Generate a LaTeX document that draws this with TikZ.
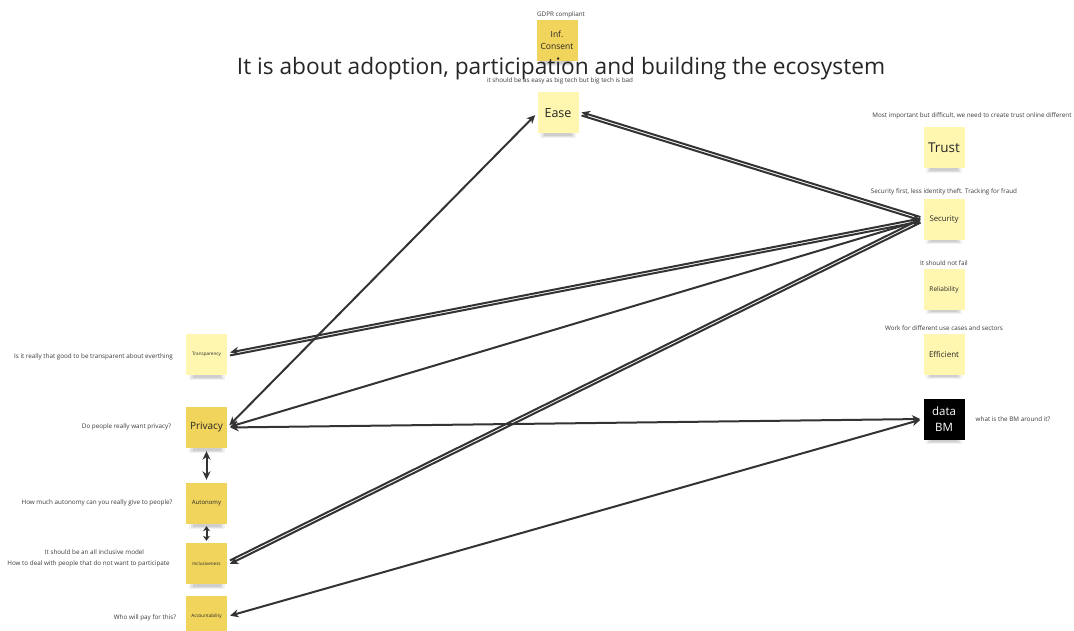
\documentclass[tikz,border=0pt]{standalone}
\usepackage{fontspec}
\setmainfont{Open Sans}
\usetikzlibrary{arrows.meta}
\definecolor{lightnote}{HTML}{FFF7B0}
\definecolor{darknote}{HTML}{F1D45C}
\definecolor{inkgray}{HTML}{333333}
\definecolor{txtgray}{HTML}{3A3A3A}
\tikzset{
  note/.style={minimum width=41pt,minimum height=41pt,inner sep=0pt,align=center,text=black!85},
  light/.style={note,fill=lightnote},
  dark/.style={note,fill=darknote},
  blacknote/.style={note,fill=black,text=white},
  cmt/.style={font=\fontsize{6.3}{7.4}\selectfont,text=txtgray,inner sep=0pt,align=center},
  conn/.style={draw=inkgray,line width=2pt,-{Stealth[length=8.5pt,width=8pt]},shorten >=3pt,shorten <=3pt},
  biconn/.style={conn,{Stealth[length=8.5pt,width=8pt]}-{Stealth[length=8.5pt,width=8pt]}},
  shortbi/.style={draw=inkgray,line width=2pt,{Stealth[length=5pt,width=7pt]}-{Stealth[length=5pt,width=7pt]},shorten >=2pt,shorten <=2pt},
}
\newcommand{\shadowat}[2]{%
  \fill[black,opacity=0.05] (#1-18,#2+19.5) rectangle (#1+18,#2+25);
  \fill[black,opacity=0.07] (#1-16,#2+20) rectangle (#1+16,#2+24);
  \fill[black,opacity=0.08] (#1-14,#2+20) rectangle (#1+14,#2+23);
}
\begin{document}
\begin{tikzpicture}[x=1pt,y=-1pt]
\useasboundingbox[fill=white] (0,0) rectangle (1074,631);

% shadows
\shadowat{557}{41}
\shadowat{558}{113}
\shadowat{944}{148}
\shadowat{944}{219}
\shadowat{944}{289}
\shadowat{944}{354}
\shadowat{944}{419}
\shadowat{207}{355}
\shadowat{207}{428}
\shadowat{207}{504}
\shadowat{207}{564}

% notes
\node[dark,font=\fontsize{8.5}{11.5}\selectfont] (consent) at (557,40.5) {Inf.\\Consent};
\node[light,font=\fontsize{12.5}{14}\selectfont] (ease) at (558,113) {Ease};
\node[light,font=\fontsize{13.5}{15}\selectfont] (trust) at (944,148) {Trust};
\node[light,font=\fontsize{7.8}{9}\selectfont] (security) at (944,219.5) {Security};
\node[light,font=\fontsize{6.5}{8}\selectfont] (reliability) at (944,289.5) {Reliability};
\node[light,font=\fontsize{8}{9}\selectfont] (efficient) at (944,354.5) {Efficient};
\node[blacknote,font=\fontsize{11.5}{16.5}\selectfont] (databm) at (944,419) {data\\BM};
\node[light,font=\fontsize{4.6}{5}\selectfont] (transparency) at (206.5,354.5) {Transparency};
\node[dark,font=\fontsize{10}{11}\selectfont] (privacy) at (206.5,427.5) {Privacy};
\node[dark,font=\fontsize{6}{7}\selectfont] (autonomy) at (206.5,503.5) {Autonomy};
\node[dark,font=\fontsize{4.6}{5}\selectfont] (inclusiveness) at (206.5,563.5) {Inclusiveness};
\node[dark,font=\fontsize{4.6}{5}\selectfont] (accountability) at (206.5,616.5) {Accountability};

% title
\node[font=\fontsize{22.7}{26}\selectfont,text=black!85,inner sep=0pt] (title) at (561,69) {It is about adoption, participation and building the ecosystem};

% comments
\node[cmt] (c1) at (561,15) {GDPR compliant};
\node[cmt] (c2) at (560,80.5) {it should be as easy as big tech but big tech is bad};
\node[cmt] (c3) at (972,116) {Most important but difficult, we need to create trust online different};
\node[cmt] (c4) at (944,192) {Security first, less identity theft. Tracking for fraud};
\node[cmt] (c5) at (944,263) {It should not fail};
\node[cmt] (c6) at (944,328) {Work for different use cases and sectors};
\node[cmt] (c7) at (1013,419) {what is the BM around it?};
\node[cmt] (c8) at (93.5,357) {Is it really that good to be transparent about everthing};
\node[cmt] (c9) at (126.5,426.5) {Do people really want privacy?};
\node[cmt] (c10) at (97,503) {How much autonomy can you really give to people?};
\node[cmt] (c11) at (94.5,552) {It should be an all inclusive model};
\node[cmt] (c12) at (88.5,563.5) {How to deal with people that do not want to participate};
\node[cmt] (c13) at (145,618) {Who will pay for this?};

% connectors
\draw[biconn] (privacy.east) -- (ease.west);
\draw[conn,transform canvas={shift={(0,-1.6)}}] (security.west) -- (ease.east);
\draw[conn,transform canvas={shift={(0,1.6)}}] (ease.east) -- (security.west);
\draw[conn,transform canvas={shift={(0,-1.5)}}] (security.west) -- (transparency.east);
\draw[conn,transform canvas={shift={(0,1.5)}}] (transparency.east) -- (security.west);
\draw[biconn] (privacy.east) -- (security.west);
\draw[conn,transform canvas={shift={(0,-1.7)}}] (inclusiveness.east) -- (security.west);
\draw[conn,transform canvas={shift={(0,1.7)}}] (security.west) -- (inclusiveness.east);
\draw[biconn] (privacy.east) -- (databm.west);
\draw[biconn] (accountability.east) -- (databm.west);
\draw[biconn] (privacy.south) -- (autonomy.north);
\draw[shortbi] (autonomy.south) -- (inclusiveness.north);
\end{tikzpicture}
\end{document}
